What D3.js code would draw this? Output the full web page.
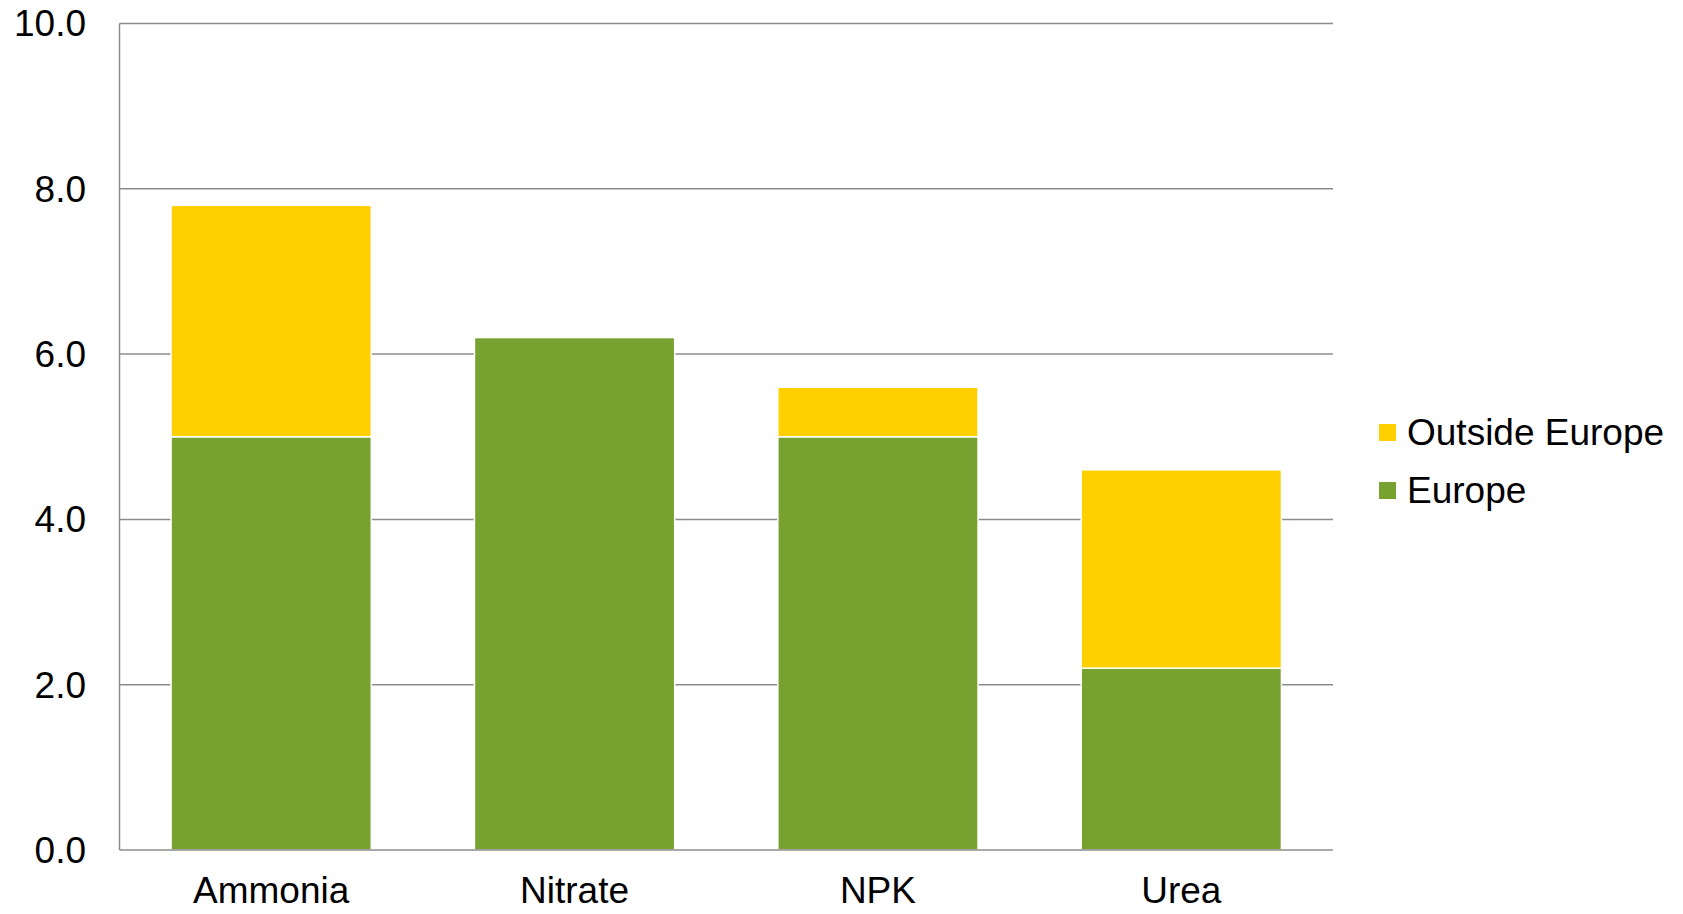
<!DOCTYPE html>
<html>
<head>
<meta charset="utf-8">
<script src="https://cdn.jsdelivr.net/npm/d3@7"></script>
<style>
  body { margin: 0; background: #fff; }
  svg text { font-family: "Liberation Sans", Arial, sans-serif; fill: #000; }
</style>
</head>
<body>
<svg id="chart" width="1683" height="914"></svg>
<script>
// data
var categories = ["Ammonia", "Nitrate", "NPK", "Urea"];
var europe = [5.0, 6.2, 5.0, 2.2];
var outsideEurope = [2.8, 0, 0.6, 2.4];
var yTicks = [0, 2, 4, 6, 8, 10];
var seriesNames = ["Outside Europe", "Europe"];

var colors = { "Europe": "#78a22f", "Outside Europe": "#ffcf00" };

var svg = d3.select("#chart");
var plotLeft = 119.5, plotRight = 1333, plotTop = 23.5, plotBottom = 850;
var fontSize = "37px";

var x = d3.scaleBand().domain(categories).range([plotLeft, plotRight]).paddingInner(0.34).paddingOuter(0.17);
var y = d3.scaleLinear().domain([0, 10]).range([plotBottom, plotTop]);

// gridlines
svg.append("g").selectAll("line")
    .data(yTicks.filter(function (d) { return d > 0; }))
    .enter().append("line")
    .attr("x1", plotLeft).attr("x2", plotRight)
    .attr("y1", function (d) { return y(d); })
    .attr("y2", function (d) { return y(d); })
    .attr("stroke", "#8c8c8c")
    .attr("stroke-width", 1.5);

// stacked bars
var rows = categories.map(function (c, i) {
    return { cat: c, "Europe": europe[i], "Outside Europe": outsideEurope[i] };
});
var stack = d3.stack().keys(["Europe", "Outside Europe"]);
var layers = stack(rows);

svg.append("g").selectAll("g")
    .data(layers)
    .enter().append("g")
    .attr("fill", function (d) { return colors[d.key]; })
    .selectAll("rect")
    .data(function (d) { return d.filter(function (p) { return p[1] - p[0] > 0; }); })
    .enter().append("rect")
    .attr("x", function (d) { return x(d.data.cat); })
    .attr("width", x.bandwidth())
    .attr("y", function (d) { return y(d[1]); })
    .attr("height", function (d) { return y(d[0]) - y(d[1]); })
    .attr("stroke", "#fff")
    .attr("stroke-width", 1.5);

// axes lines
svg.append("line")
    .attr("x1", plotLeft).attr("x2", plotLeft)
    .attr("y1", plotTop).attr("y2", plotBottom)
    .attr("stroke", "#8c8c8c").attr("stroke-width", 1.5);
svg.append("line")
    .attr("x1", plotLeft).attr("x2", plotRight)
    .attr("y1", plotBottom).attr("y2", plotBottom)
    .attr("stroke", "#8c8c8c").attr("stroke-width", 1.5);

// y tick labels
svg.append("g").selectAll("text")
    .data(yTicks)
    .enter().append("text")
    .attr("x", 86)
    .attr("y", function (d) { return y(d); })
    .attr("dy", "0.35em")
    .attr("text-anchor", "end")
    .style("font-size", fontSize)
    .text(function (d) { return d3.format(".1f")(d); });

// x labels (kept inside the frame)
svg.append("g").selectAll("text")
    .data(categories)
    .enter().append("text")
    .attr("x", function (d) { return x(d) + x.bandwidth() / 2; })
    .attr("y", 903)
    .attr("text-anchor", "middle")
    .style("font-size", fontSize)
    .text(function (d) { return d; });

// legend
var legend = svg.append("g").selectAll("g")
    .data(seriesNames)
    .enter().append("g")
    .attr("transform", function (d, i) { return "translate(1379," + (445 + i * 58) + ")"; });
legend.append("rect")
    .attr("x", 0).attr("y", -21)
    .attr("width", 17).attr("height", 17)
    .attr("fill", function (d) { return colors[d]; });
legend.append("text")
    .attr("x", 28).attr("y", 0)
    .style("font-size", fontSize)
    .text(function (d) { return d; });
</script>
</body>
</html>
